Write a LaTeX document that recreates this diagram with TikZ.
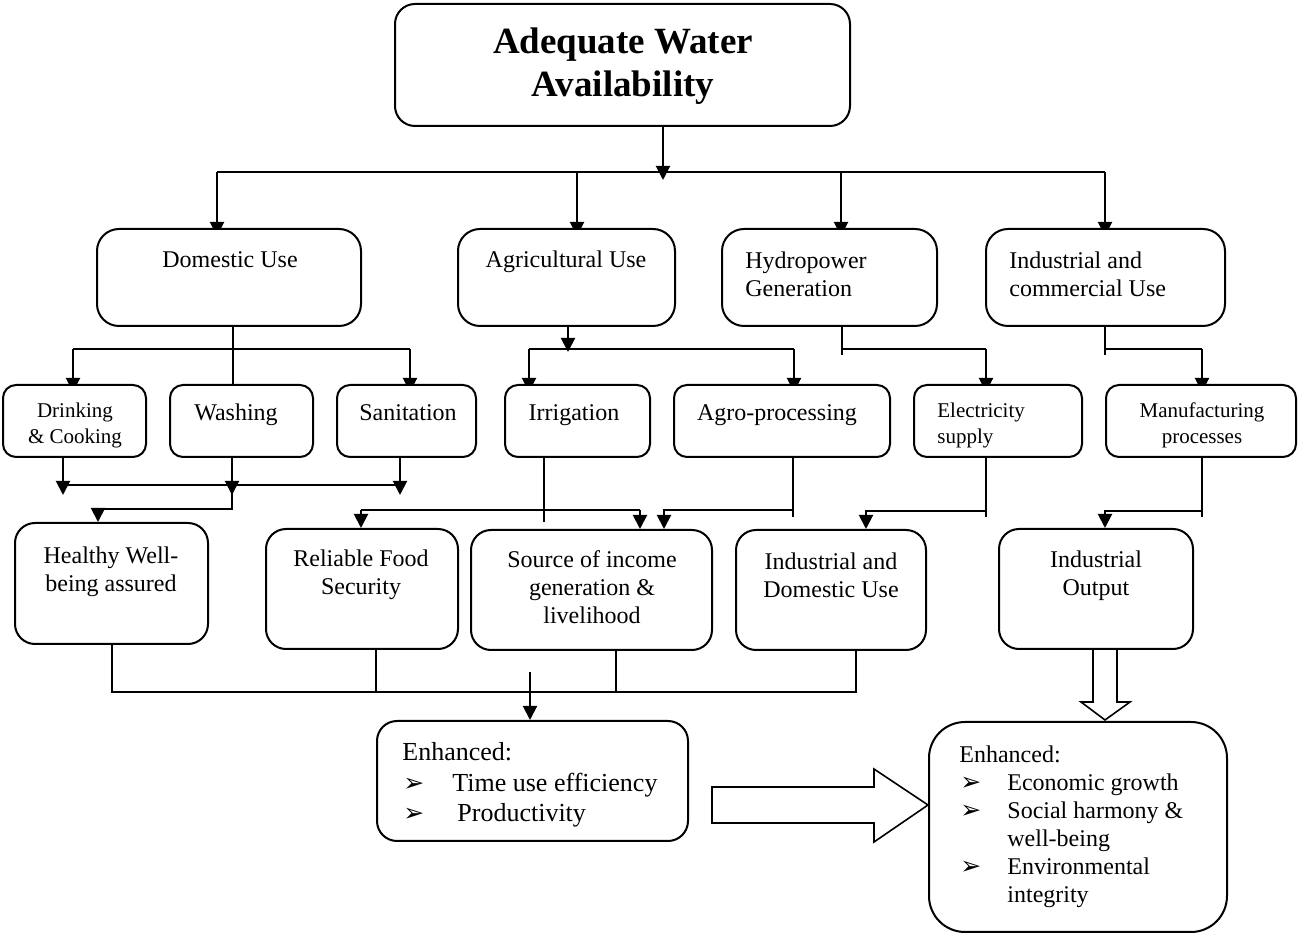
\documentclass[tikz,border=0pt]{standalone}
\usepackage{fontspec}
\setmainfont{Liberation Serif}
\newfontfamily\dejavu{DejaVu Sans}
\usetikzlibrary{arrows.meta,fit,calc}
\pgfdeclarelayer{background}
\pgfsetlayers{background,main}
\newcommand\bul{{\dejavu\fontsize{12.5}{14}\selectfont ➢}}
\begin{document}
\begin{tikzpicture}[x=0.5pt,y=-0.5pt,
  box/.style={draw, line width=1pt, fill=white, inner sep=0pt, rounded corners=#1},
  box/.default=10pt,
  lbl/.style={font=\fontsize{12}{14}\selectfont, inner sep=0pt, align=center},
  sml/.style={font=\fontsize{10.5}{13}\selectfont, inner sep=0pt, align=center},
  big/.style={font=\fontsize{13}{15}\selectfont, inner sep=0pt},
  line/.style={font=\fontsize{12}{14}\selectfont, inner sep=0pt},
  conn/.style={line width=1pt},
  arr/.style={line width=1pt, -{Triangle[width=7pt,length=7pt]}},
  blk/.style={draw, line width=0.8pt, fill=white, line join=miter}
]
\useasboundingbox (0,0) rectangle (1298,935);

% ---------- boxes ----------
\node[box=10pt, fit={(395,4) (850,126)}] (top) {};
\node[box=11pt, fit={(97,229) (361,326)}] (dom) {};
\node[box=11pt, fit={(458,229) (675,326)}] (agr) {};
\node[box=11pt, fit={(722,229) (937,326)}] (hyd) {};
\node[box=11pt, fit={(986,229) (1225,326)}] (ind) {};

\node[box=6.5pt, fit={(3,385) (146,457)}] (dri) {};
\node[box=6.5pt, fit={(170,385) (313,457)}] (was) {};
\node[box=6.5pt, fit={(337,385) (476,457)}] (san) {};
\node[box=6.5pt, fit={(505,385) (650,457)}] (irr) {};
\node[box=6.5pt, fit={(674,385) (890,457)}] (agp) {};
\node[box=6.5pt, fit={(914,385) (1082,457)}] (ele) {};
\node[box=6.5pt, fit={(1106,385) (1296,457)}] (man) {};

\node[box=10pt, fit={(15,523) (208,644)}] (hea) {};
\node[box=10pt, fit={(266,529) (458,649)}] (rel) {};
\node[box=10pt, fit={(471,530) (712,650)}] (src) {};
\node[box=10pt, fit={(736,530) (926,650)}] (idu) {};
\node[box=10pt, fit={(999,529) (1193,649)}] (iop) {};

\node[box=10pt, fit={(377,721) (688,841)}] (en1) {};
\node[box=18pt, fit={(929,722) (1227,932)}] (en2) {};

% ---------- texts ----------
\node[lbl, font=\bfseries\fontsize{18.5}{21.5}\selectfont] (topt) at (623,66) {Adequate Water\\Availability};
\node[lbl] (domt) at (230,260) {Domestic Use};
\node[lbl] (agrt) at (566,262) {Agricultural Use};
\node[lbl, anchor=west, align=left] (hydt) at (745,274) {Hydropower\\Generation};
\node[lbl, anchor=west, align=left] (indt) at (1009,274) {Industrial and\\commercial Use};

\node[sml] (drit) at (75,425) {Drinking\\\& Cooking};
\node[lbl] (wast) at (236,415) {Washing};
\node[lbl] (sant) at (408,413) {Sanitation};
\node[lbl] (irrt) at (574,415) {Irrigation};
\node[lbl] (agpt) at (777,415) {Agro-processing};
\node[sml, anchor=west, align=left] (elet) at (937,425) {Electricity\\supply};
\node[sml] (mant) at (1202,425) {Manufacturing\\processes};

\node[lbl] (heat) at (111,572) {Healthy Well-\\being assured};
\node[lbl] (relt) at (361,575) {Reliable Food\\Security};
\node[lbl] (srct) at (592,587) {Source of income\\generation \&\\livelihood};
\node[lbl] (idut) at (831,575) {Industrial and\\Domestic Use};
\node[lbl] (iopt) at (1096,576) {Industrial\\Output};

\node[big, anchor=base west] (e1a) at (402,761) {Enhanced:};
\node[anchor=base west, inner sep=0pt] (e1b1) at (403,792) {\bul};
\node[big, anchor=base west] (e1b) at (452,792) {Time use efficiency};
\node[anchor=base west, inner sep=0pt] (e1c1) at (403,822) {\bul};
\node[big, anchor=base west] (e1c) at (457,822) {Productivity};

\node[line, anchor=base west] (e2a) at (959,763) {Enhanced:};
\node[anchor=base west, inner sep=0pt] (e2b1) at (960,791) {\bul};
\node[line, anchor=base west] (e2b) at (1007,791) {Economic growth};
\node[anchor=base west, inner sep=0pt] (e2c1) at (960,819) {\bul};
\node[line, anchor=base west] (e2c) at (1007,819) {Social harmony \&};
\node[line, anchor=base west] (e2d) at (1007,847) {well-being};
\node[anchor=base west, inner sep=0pt] (e2e1) at (960,875) {\bul};
\node[line, anchor=base west] (e2e) at (1007,875) {Environmental};
\node[line, anchor=base west] (e2f) at (1007,903) {integrity};

% ---------- junction coordinates ----------
\coordinate (jT) at (663,172);
\coordinate (jTtip) at (663,180);
\coordinate (jD) at (217,172);
\coordinate (jA) at (577,172);
\coordinate (jH) at (841,172);
\coordinate (jI) at (1105,172);

\coordinate (dB) at (233,349);
\coordinate (dL) at (73,349);
\coordinate (dR) at (410,349);

\coordinate (aB) at (568,349);
\coordinate (aL) at (529,349);
\coordinate (aR) at (794,349);

\coordinate (hB) at (842,349);
\coordinate (hR) at (986,349);
\coordinate (iB) at (1105,349);
\coordinate (iR) at (1202,349);

\coordinate (wL) at (63,485);
\coordinate (wM) at (232,485);
\coordinate (wR) at (400,485);
\coordinate (hJ) at (232,509);
\coordinate (hJL) at (98,509);

\coordinate (rL) at (361,510);
\coordinate (rR) at (640,510);
\coordinate (iV) at (544,510);
\coordinate (gV) at (793,510);
\coordinate (gL) at (664,510);
\coordinate (eV) at (986,511);
\coordinate (eL) at (866,511);
\coordinate (mV) at (1202,511);
\coordinate (mL) at (1105,511);

\coordinate (bL) at (112,692);
\coordinate (bR) at (856,692);
\coordinate (b2) at (376,692);
\coordinate (b3) at (616,692);
\coordinate (eA) at (530,672);

% ---------- connectors ----------
\begin{pgfonlayer}{background}
\draw[arr] (top.south -| jT) -- (jTtip);
\draw[conn] (jD) -- (jI);
\draw[arr] (jD) -- ($(dom.north -| jD)+(0,8)$);
\draw[arr] (jA) -- ($(agr.north -| jA)+(0,8)$);
\draw[arr] (jH) -- ($(hyd.north -| jH)+(0,8)$);
\draw[arr] (jI) -- ($(ind.north -| jI)+(0,8)$);

\draw[conn] (dom.south -| dB) -- (was.north -| dB);
\draw[conn] (dL) -- (dR);
\draw[arr] (dL) -- ($(dri.north -| dL)+(0,8)$);
\draw[arr] (dR) -- ($(san.north -| dR)+(0,8)$);

\draw[arr] (agr.south -| aB) -- ($(aB)+(0,3)$);
\draw[conn] (aL) -- (aR);
\draw[arr] (aL) -- ($(irr.north -| aL)+(0,8)$);
\draw[arr] (aR) -- ($(agp.north -| aR)+(0,8)$);

\draw[conn] (hyd.south -| hB) -- ($(hB)+(0,6)$);
\draw[conn] (hB) -- (hR);
\draw[arr] (hR) -- ($(ele.north -| hR)+(0,8)$);

\draw[conn] (ind.south -| iB) -- ($(iB)+(0,6)$);
\draw[conn] (iB) -- (iR);
\draw[arr] (iR) -- ($(man.north -| iR)+(0,8)$);

\draw[arr] (dri.south -| wL) -- ($(wL)+(0,10)$);
\draw[arr] (was.south -| wM) -- ($(wM)+(0,10)$);
\draw[arr] (san.south -| wR) -- ($(wR)+(0,10)$);
\draw[conn] (wL) -- (wR);
\draw[arr] (wM) -- (hJ) -- (hJL) -- (hea.north -| hJL);

\draw[conn] (irr.south -| iV) -- ($(iV)+(0,12)$);
\draw[conn] (rL) -- (rR);
\draw[arr] (rL) -- (rel.north -| rL);
\draw[arr] (rR) -- (src.north -| rR);

\draw[conn] (agp.south -| gV) -- ($(gV)+(0,7)$);
\draw[arr] (gV) -- (gL) -- (src.north -| gL);

\draw[conn] (ele.south -| eV) -- ($(eV)+(0,6)$);
\draw[arr] (eV) -- (eL) -- (idu.north -| eL);

\draw[conn] (man.south -| mV) -- ($(mV)+(0,6)$);
\draw[arr] (mV) -- (mL) -- (iop.north -| mL);

\draw[conn] (hea.south -| bL) -- (bL) -- (bR) -- (idu.south -| bR);
\draw[conn] (rel.south -| b2) -- (b2);
\draw[conn] (src.south -| b3) -- (b3);
\draw[arr] (eA) -- (en1.north -| eA);
\end{pgfonlayer}

% ---------- block arrows ----------
\draw[blk] (712,787) -- (874,787) -- (874,769) -- (928,805) -- (874,842) -- (874,823) -- (712,823) -- cycle;
\draw[blk] (1093,649) -- (1117,649) -- (1117,702) -- (1130,702) -- (1105,720) -- (1081,702) -- (1093,702) -- cycle;
\end{tikzpicture}
\end{document}
